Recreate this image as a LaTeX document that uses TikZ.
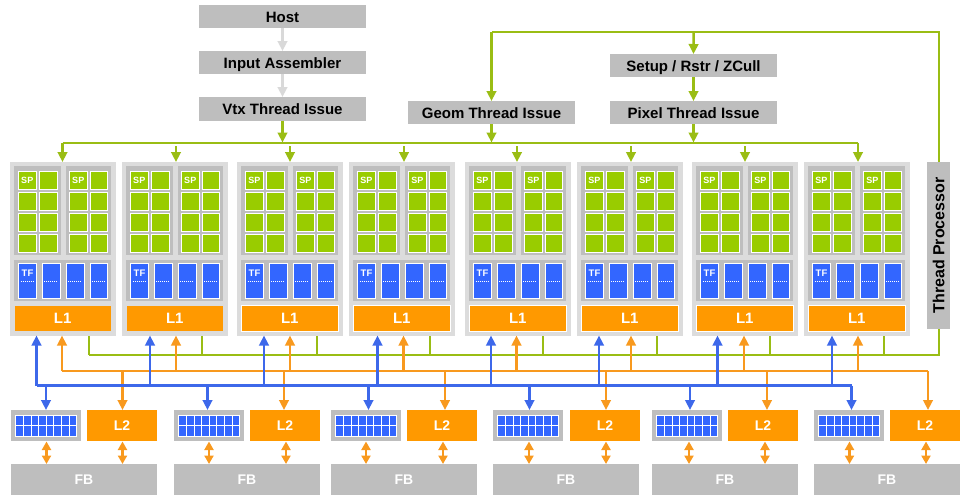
\documentclass[tikz,border=0pt]{standalone}
\usepackage{fontspec}
\setmainfont{Liberation Sans}
\usetikzlibrary{arrows.meta}
\definecolor{panelgray}{HTML}{BEBEBE}
\definecolor{shellgray}{HTML}{DCDCDC}
\definecolor{fadearrow}{HTML}{D9D9D9}
\definecolor{spgreen}{HTML}{99CC00}
\definecolor{wiregreen}{HTML}{9ABD14}
\definecolor{texblue}{HTML}{3366FF}
\definecolor{wireblue}{HTML}{3D68EA}
\definecolor{cacheorange}{HTML}{FF9900}
\definecolor{wireorange}{HTML}{F8991E}
\tikzset{
  rect/.style={inner sep=0pt,outer sep=0pt,rectangle,font=\bfseries},
  stage/.style={rect,fill=panelgray,text=black,text height=11pt,text depth=0pt,font=\bfseries\fontsize{15}{15}\selectfont},
  shell/.style={rect,fill=shellgray},
  panel/.style={rect,fill=panelgray},
  sproc/.style={rect,fill=spgreen,draw=white,line width=.8pt,text=white,font=\bfseries\fontsize{9}{9}\selectfont},
  tunit/.style={rect,fill=texblue,draw=white,line width=.8pt},
  cache/.style={rect,fill=cacheorange,text=white,font=\bfseries\fontsize{15}{15}\selectfont},
  fbank/.style={rect,fill=panelgray,text=white,font=\bfseries\fontsize{15}{15}\selectfont},
  cell/.style={rect,fill=texblue,draw=white,line width=.55pt},
  greenline/.style={draw=wiregreen,line width=2pt},
  blueline/.style={draw=wireblue,line width=2.2pt},
  orangeline/.style={draw=wireorange,line width=2pt},
  tipa/.style={line width=2.5pt,-{Triangle[length=10pt,width=9.5pt]}},
  tipb/.style={line width=2.7pt,{Triangle[length=8.5pt,width=9pt]}-{Triangle[length=8.5pt,width=9pt]}},
  fadeline/.style={draw=fadearrow,line width=2pt},
}
% \rectnode{name}{style}{x0}{y0}{x1}{y1}{text}: box given by opposite corners
\newcommand\rectnode[7]{%
  \node[#2,minimum width={((#5)-(#3))*1pt},minimum height={((#6)-(#4))*1pt}]
    (#1) at ({((#3)+(#5))/2},{((#4)+(#6))/2}) {#7};}
\begin{document}
\begin{tikzpicture}[x=1pt,y=-1pt]
\useasboundingbox (0,0) rectangle (971,499);

% front-end stages
\rectnode{host}{stage}{199}{5}{366}{28}{Host}
\rectnode{ia}{stage}{199}{51}{366}{74}{Input Assembler}
\rectnode{vtx}{stage}{199}{97}{366}{120.5}{Vtx Thread Issue}
\rectnode{geom}{stage}{408}{101}{575}{124}{Geom Thread Issue}
\rectnode{setup}{stage}{610}{54}{777}{77}{Setup / Rstr / ZCull}
\rectnode{pixel}{stage}{610}{101}{777}{124}{Pixel Thread Issue}
\node[rect,fill=panelgray,minimum width=167pt,minimum height=23pt,rotate=90,
  text height=11.5pt,text depth=0pt,
  font=\bfseries\fontsize{16}{16}\selectfont] (tp) at (938.5,245.5) {Thread Processor};

% shader clusters
\foreach \i/\lx/\tx/\ty/\bx/\ox/\gx in {
  1/10/62.5/142.5/36.5/62/89,
  2/122/176/146/150/176/202,
  3/237/290/146/264/290/316.5,
  4/349/404/146/377.5/403.5/430,
  5/465/517/146/491/516.5/543,
  6/577/631/146/599/631/657,
  7/692/745/146/717.5/744/770,
  8/804/858/142.5/832/858/884}{
  \begin{scope}[shift={(\lx,0)}]
    \rectnode{c\i}{shell}{0}{162}{106}{335.5}{}
    \rectnode{c\i a}{panel}{4}{166}{50.5}{255}{}
    \rectnode{c\i b}{panel}{55.5}{166}{101}{255}{}
    \rectnode{c\i t}{panel}{4}{259.5}{101}{301}{}
    \foreach \r/\ya/\yb in {1/171/189,2/192/210,3/213/231,4/234/252}{
      \foreach \k/\xa/\xb in {1/8.5/26,2/29/47,3/59.5/77,4/80/97}{
        \ifnum\r=1
          \ifodd\k
            \rectnode{c\i sp\r\k}{sproc}{\xa}{\ya}{\xb}{\yb}{SP}
          \else
            \rectnode{c\i sp\r\k}{sproc}{\xa}{\ya}{\xb}{\yb}{}
          \fi
        \else
          \rectnode{c\i sp\r\k}{sproc}{\xa}{\ya}{\xb}{\yb}{}
        \fi
      }
    }
    \foreach \k/\xa/\xb in {1/8.5/26,2/32/50,3/56/74,4/80/97}{
      \rectnode{c\i tf\k}{tunit}{\xa}{263}{\xb}{298}{}
      \draw[white,line width=.8pt,dash pattern=on 1pt off 1pt]
        ([xshift=2pt,yshift=-.5pt]c\i tf\k.west) -- ([xshift=-2pt,yshift=-.5pt]c\i tf\k.east);
    }
    \node[rect,text=white,font=\bfseries\fontsize{9.5}{9.5}\selectfont] (c\i tfl) at (17.5,273.5) {TF};
    \ifnum\i>2
      \rectnode{c\i l}{cache,draw=white,line width=.7pt}{4.5}{305.5}{101}{331}{L1}
    \else
      \rectnode{c\i l}{cache}{4.5}{305.5}{101}{331}{L1}
    \fi
  \end{scope}
  \coordinate (top\i) at (\tx,142.5);
  \coordinate (tops\i) at (\tx,\ty);
  \coordinate (bu\i) at (\bx,385.5);
  \coordinate (or\i) at (\ox,371);
  \coordinate (gr\i) at (\gx,355);
}

% memory partitions: grid, L2, frame buffer
\foreach \i/\gl/\ll/\dx/\lx/\ax/\bx in {
  1/11/87/46/122.5/46.5/122.5,
  2/174/250/207.5/284/209/286,
  3/331/407/368.5/445/366/443,
  4/493/570/529.5/606/529/606,
  5/652/728/690/767/689/765,
  6/814/890/851.5/928/849.5/926}{
  \rectnode{m\i}{panel}{\gl}{410}{\gl+70}{441}{}
  \begin{scope}[shift={(\gl+4.5,415.5)}]
    \foreach \col in {0,...,7}{
      \foreach \row in {0,1}{
        \rectnode{m\i g\col\row}{cell}{\col*7.65}{\row*10.2}{(\col+1)*7.65}{(\row+1)*10.2}{}
      }
    }
  \end{scope}
  \rectnode{l\i}{cache,font=\bfseries\fontsize{14}{14}\selectfont}{\ll}{410}{\ll+70}{441}{L2}
  \rectnode{fb\i}{fbank,font=\bfseries\fontsize{14}{14}\selectfont}{\gl}{464}{\gl+146}{495}{FB}
  \coordinate (md\i) at (\dx,385.5);
  \coordinate (ld\i) at (\lx,371);
  \coordinate (ma\i) at (\ax,441.5);
  \coordinate (lb\i) at (\bx,441.5);
}

% command flow through the front end
\draw[fadeline,tipa] (host.south) -- (ia.north);
\draw[fadeline,tipa] (ia.south) -- (vtx.north);
\coordinate (thr) at (938.5,31.5);
\coordinate (gjoin) at (geom.north |- thr);
\coordinate (sjoin) at ([xshift=.2pt]setup.north |- thr);
\draw[greenline] (tp.east) -- (thr) -- (gjoin);
\draw[greenline,tipa] (gjoin) -- (geom.north);
\draw[greenline,tipa] (sjoin) -- (setup.north);
\draw[greenline,tipa] (setup.south) -- (pixel.north);

% dispatch bus above the clusters
\draw[greenline] (top1) -- (top8);
\draw[greenline,tipa] (vtx.south) -- (vtx.south |- top1);
\draw[greenline,tipa] (geom.south) -- (geom.south |- top1);
\draw[greenline,tipa] (pixel.south) -- (pixel.south |- top1);
\foreach \i in {1,...,8}{
  \draw[greenline,tipa] (tops\i) -- (tops\i |- c\i.north);
}

% return bus below the clusters
\coordinate (greturn) at (tp.east |- gr1);
\draw[greenline] (gr1) -- (greturn) -- (tp.west);
\foreach \i in {1,...,8}{
  \draw[greenline] (gr\i) -- (gr\i |- c\i.south);
}

% L1 to L2 fabric
\draw[orangeline] (or1) -- (ld6);
\foreach \i in {1,...,8}{
  \draw[orangeline,tipa] (or\i) -- (or\i |- c\i.south);
}
\foreach \i in {1,...,6}{
  \draw[orangeline,tipa] (ld\i) -- (ld\i |- l\i.north);
}

% texture fabric
\draw[blueline] (bu1) -- (md6);
\foreach \i in {1,...,8}{
  \draw[blueline,tipa] (bu\i) -- (bu\i |- c\i.south);
}
\foreach \i in {1,...,6}{
  \draw[blueline,tipa] (md\i) -- (md\i |- m\i.north);
}

% links down to the frame buffer
\foreach \i in {1,...,6}{
  \draw[orangeline,tipb] (ma\i) -- (ma\i |- fb\i.north);
  \draw[orangeline,tipb] (lb\i) -- (lb\i |- fb\i.north);
}
\end{tikzpicture}
\end{document}
